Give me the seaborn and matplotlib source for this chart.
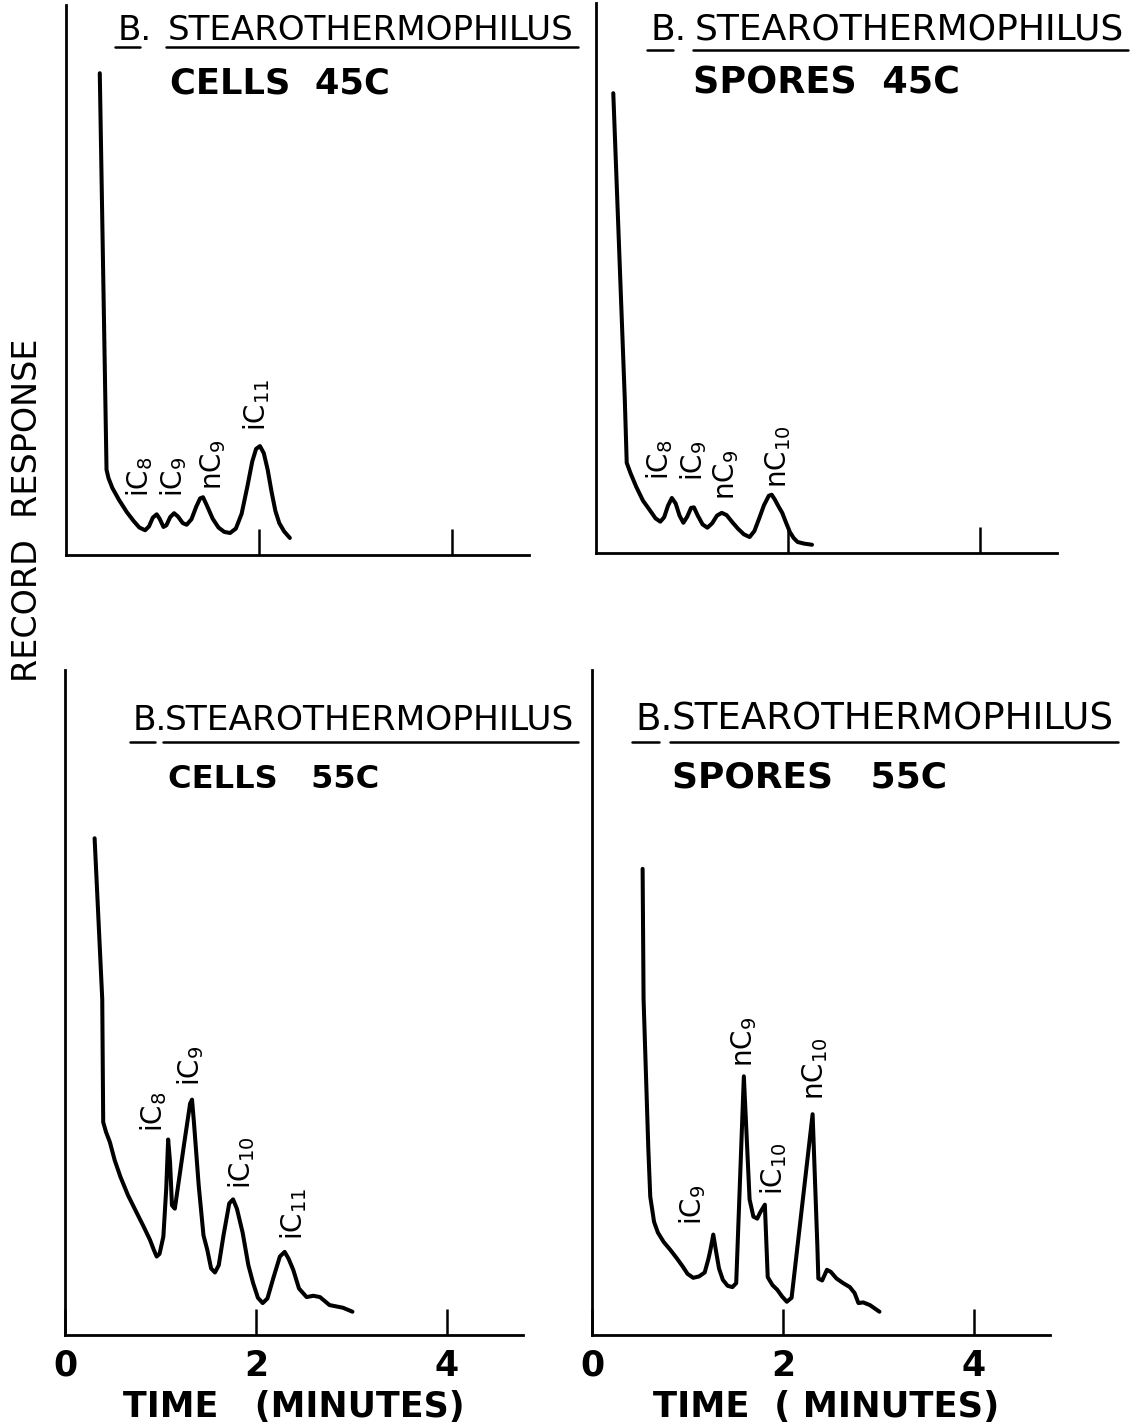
import numpy as np
import pandas as pd
import matplotlib
matplotlib.use("Agg")
import matplotlib.pyplot as plt
import seaborn as sns
from matplotlib.lines import Line2D

# ---------------- data (time in minutes, recorder response 0-100 of panel height) -------------
cells45_time = [0.35, 0.42, 0.44, 0.48, 0.55, 0.63, 0.70, 0.76, 0.82, 0.86, 0.90, 0.94, 0.97,
                1.01, 1.04, 1.08, 1.12, 1.16, 1.21, 1.25, 1.30, 1.35, 1.39, 1.42, 1.46, 1.52,
                1.58, 1.64, 1.70, 1.76, 1.82, 1.88, 1.93, 1.97, 2.01, 2.05, 2.09, 2.13, 2.17,
                2.21, 2.26, 2.32]
cells45_resp = [87.6, 15.5, 14.0, 12.2, 10.0, 7.8, 6.2, 5.0, 4.5, 5.2, 6.8, 7.4, 6.6,
                5.1, 5.4, 6.9, 7.6, 7.0, 5.8, 5.5, 6.5, 8.8, 10.3, 10.5, 9.0, 6.6,
                5.0, 4.2, 4.0, 4.8, 7.5, 12.5, 17.0, 19.3, 19.8, 18.5, 15.5, 11.5, 8.0,
                5.8, 4.3, 3.1]

spores45_time = [0.18, 0.30, 0.32, 0.36, 0.42, 0.49, 0.56, 0.62, 0.67, 0.71, 0.75, 0.79, 0.83,
                 0.87, 0.91, 0.95, 0.99, 1.02, 1.06, 1.11, 1.16, 1.21, 1.26, 1.31, 1.36, 1.42,
                 1.48, 1.54, 1.60, 1.65, 1.70, 1.75, 1.80, 1.83, 1.86, 1.90, 1.94, 1.98, 2.02,
                 2.06, 2.10, 2.17, 2.25]
spores45_resp = [83.6, 27.9, 16.4, 14.5, 12.0, 9.5, 7.8, 6.3, 5.7, 6.5, 8.6, 10.0, 9.0,
                 6.8, 5.5, 6.6, 8.2, 8.3, 6.8, 5.2, 4.6, 5.4, 6.8, 7.3, 6.9, 5.6,
                 4.4, 3.4, 2.9, 4.0, 6.3, 8.7, 10.4, 10.6, 9.8, 8.5, 7.3, 5.5, 3.8,
                 2.7, 2.0, 1.7, 1.5]

cells55_time = [0.31, 0.35, 0.39, 0.40, 0.43, 0.47, 0.52, 0.58, 0.66, 0.75, 0.82, 0.89, 0.93,
                0.96, 0.99, 1.03, 1.06, 1.08, 1.10, 1.12, 1.15, 1.18, 1.25, 1.31, 1.33, 1.35,
                1.40, 1.45, 1.49, 1.53, 1.57, 1.61, 1.66, 1.72, 1.76, 1.80, 1.86, 1.92, 1.97,
                2.02, 2.07, 2.12, 2.18, 2.25, 2.30, 2.34, 2.39, 2.45, 2.53, 2.60, 2.67, 2.77,
                2.91, 3.01]
cells55_resp = [74.7, 62.6, 50.5, 32.0, 30.5, 29.0, 26.3, 23.8, 21.0, 18.4, 16.4, 14.3, 12.8,
                11.8, 12.2, 14.8, 22.0, 29.4, 26.0, 19.5, 19.0, 22.0, 29.0, 34.8, 35.4, 32.0,
                22.5, 15.0, 12.8, 10.0, 9.4, 10.5, 15.0, 19.8, 20.4, 19.0, 15.4, 10.5, 7.8,
                5.6, 4.8, 5.5, 8.5, 11.8, 12.5, 11.5, 9.8, 7.0, 5.7, 5.9, 5.7, 4.5,
                4.1, 3.5]

spores55_time = [0.53, 0.54, 0.59, 0.61, 0.65, 0.69, 0.75, 0.82, 0.89, 0.95, 1.00, 1.06, 1.12,
                 1.18, 1.22, 1.24, 1.27, 1.30, 1.33, 1.37, 1.42, 1.47, 1.51, 1.59, 1.65, 1.69,
                 1.73, 1.76, 1.81, 1.84, 1.89, 1.94, 1.99, 2.04, 2.09, 2.31, 2.36, 2.37, 2.41,
                 2.46, 2.50, 2.56, 2.63, 2.70, 2.75, 2.79, 2.84, 2.91, 3.01]
spores55_resp = [70.1, 50.5, 27.9, 20.8, 17.0, 15.4, 14.0, 12.8, 11.5, 10.3, 9.2, 8.6, 8.8,
                 9.4, 11.5, 12.8, 15.1, 12.5, 10.0, 8.3, 7.4, 7.2, 7.8, 38.9, 20.4, 17.8,
                 17.5, 18.4, 19.6, 8.7, 7.5, 6.8, 5.8, 5.0, 5.6, 33.2, 13.3, 8.5, 8.2,
                 9.8, 9.5, 8.5, 7.8, 7.2, 6.3, 4.8, 4.9, 4.5, 3.5]

cells45_peaks = ["iC$_8$", "iC$_9$", "nC$_9$", "iC$_{11}$"]
spores45_peaks = ["iC$_8$", "iC$_9$", "nC$_9$", "nC$_{10}$"]
cells55_peaks = ["iC$_8$", "iC$_9$", "iC$_{10}$", "iC$_{11}$"]
spores55_peaks = ["iC$_9$", "nC$_9$", "iC$_{10}$", "nC$_{10}$"]

tick_values = [0, 2, 4]
tick_labels = ["0", "2", "4"]

# ---------------- style ----------------
sns.set_style("white")
plt.rcParams['font.family'] = ['DejaVu Sans']
plt.rcParams['mathtext.fontset'] = 'dejavusans'
plt.rcParams['text.color'] = 'black'
plt.rcParams['xtick.labelcolor'] = 'black'

W, H = 1142, 1428
fig = plt.figure(figsize=(W / 100, H / 100), dpi=100)
renderer = fig.canvas.get_renderer()


def px_rect(x0, ytop, x1, ybot):
    return [x0 / W, 1 - ybot / H, (x1 - x0) / W, (ybot - ytop) / H]


XMAX = 4.8
panels = [
    dict(rect=px_rect(66, 5, 66 + XMAX * 96.5, 555), t=cells45_time, r=cells45_resp,
         peaks=cells45_peaks, lab=[(0.76, 10.6), (1.12, 10.6), (1.52, 11.8), (1.98, 22.5)],
         bottom=False),
    dict(rect=px_rect(596, 3, 596 + XMAX * 96, 553), t=spores45_time, r=spores45_resp,
         peaks=spores45_peaks, lab=[(0.66, 13.3), (1.02, 13.0), (1.36, 9.7), (1.90, 11.9)],
         bottom=False),
    dict(rect=px_rect(65, 670, 65 + XMAX * 95.5, 1335), t=cells55_time, r=cells55_resp,
         peaks=cells55_peaks, lab=[(0.93, 30.6), (1.32, 37.4), (1.85, 21.9), (2.39, 14.3)],
         bottom=True),
    dict(rect=px_rect(592, 670, 592 + XMAX * 95.5, 1335), t=spores55_time, r=spores55_resp,
         peaks=spores55_peaks, lab=[(1.05, 16.6), (1.59, 40.3), (1.90, 21.1), (2.34, 35.4)],
         bottom=True),
]

for p in panels:
    ax = fig.add_axes(p['rect'])
    df = pd.DataFrame({"time": p['t'], "response": p['r']})
    sns.lineplot(data=df, x="time", y="response", ax=ax, color="black", lw=2.9,
                 sort=False, estimator=None, solid_joinstyle="round", solid_capstyle="round")
    ax.set_xlim(0, XMAX)
    ax.set_ylim(0, 100)
    ax.set_xlabel("")
    ax.set_ylabel("")
    ax.set_yticks([])
    for side in ("top", "right"):
        ax.spines[side].set_visible(False)
    for side in ("left", "bottom"):
        ax.spines[side].set_color("black")
        ax.spines[side].set_linewidth(2.0)
    ax.patch.set_alpha(0)
    if p['bottom']:
        ax.set_xticks(tick_values)
        ax.set_xticklabels(tick_labels, fontsize=25, fontweight="bold", color="black")
    else:
        ax.set_xticks(tick_values[1:])
        ax.set_xticklabels([])
    ax.tick_params(axis="x", direction="in", length=19, width=1.8, color="black", pad=10,
                   bottom=True, labelcolor="black")
    for name, (tx, vy) in zip(p['peaks'], p['lab']):
        ax.text(tx, vy, name, rotation=90, ha="center", va="bottom", fontsize=20,
                color="black")


# ---------------- titles ----------------
def fit_text(s, x_left, y_base, target_w, base=24, **kw):
    t = fig.text(x_left / W, 1 - y_base / H, s, fontsize=base, ha="left",
                 va="baseline", color="black", **kw)
    w = t.get_window_extent(renderer).width
    t.set_fontsize(base * target_w / w)
    return t


def uline(x0, x1, y):
    fig.add_artist(Line2D([x0 / W, x1 / W], [1 - y / H, 1 - y / H], color="black", lw=1.8))


titles = [
    # B left, rest left, rest right, baseline, underline y, line2 text, line2 left, line2 right, line2 baseline
    (118, 168, 575, 40, 47, "CELLS  45C", 170, 390, 93),
    (650, 695, 1125, 40, 50, "SPORES  45C", 693, 960, 93),
    (133, 165, 575, 730, 742, "CELLS   55C", 168, 380, 788),
    (635, 672, 1115, 730, 742, "SPORES   55C", 672, 948, 788),
]
for bl, rl, rr, yb, uy, l2, l2l, l2r, l2b in titles:
    rest = fit_text("STEAROTHERMOPHILUS", rl, yb, rr - rl)
    fs = rest.get_fontsize()
    fig.text(bl / W, 1 - yb / H, "B.", fontsize=fs, ha="left", va="baseline", color="black")
    uline(bl - 3, bl + 0.65 * fs * 1.389, uy)
    uline(rl - 2, rr + 3, uy)
    fit_text(l2, l2l, l2b, l2r - l2l, fontweight="bold")

fig.text(28 / W, 1 - 510 / H, "RECORD  RESPONSE", rotation=90, ha="center", va="center",
         fontsize=24, color="black")
fit_text("TIME   (MINUTES)", 123, 1417, 342, fontweight="bold")
fit_text("TIME  ( MINUTES)", 653, 1417, 347, fontweight="bold")

fig.savefig("out.png", dpi=100, facecolor="white")
